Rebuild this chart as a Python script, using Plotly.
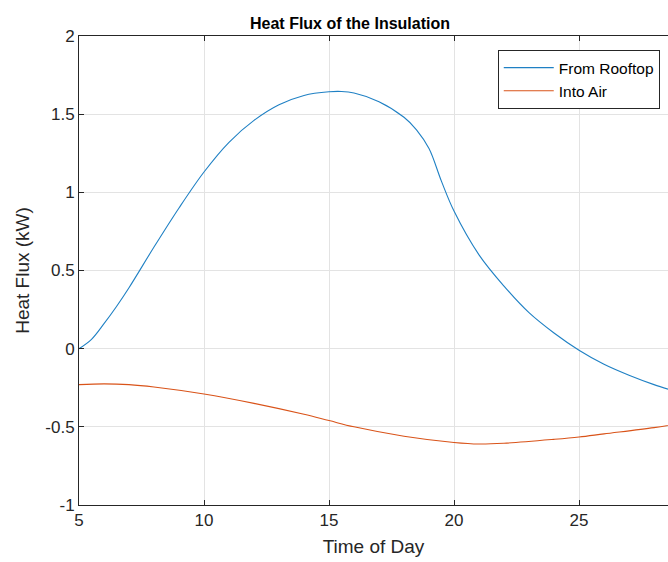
import plotly.graph_objects as go

# Data
t_roof = [5, 5.5, 6, 6.5, 7, 8, 9, 10, 11, 12, 13, 14, 15, 15.5, 16, 17, 18, 18.5, 19, 19.5, 20, 21, 22, 23, 24, 25, 26, 27, 28, 29]
q_roof = [0, 0.06, 0.16, 0.27, 0.39, 0.65, 0.9, 1.13, 1.32, 1.46, 1.56, 1.62, 1.643, 1.645, 1.635, 1.58, 1.48, 1.40, 1.28, 1.07, 0.88, 0.6, 0.4, 0.23, 0.1, -0.01, -0.1, -0.17, -0.23, -0.28]

t_air = [5, 6, 7, 8, 10, 12, 14, 15, 16, 18, 20, 21, 22, 24, 25, 26, 28, 29]
q_air = [-0.23, -0.225, -0.23, -0.245, -0.29, -0.35, -0.42, -0.46, -0.5, -0.56, -0.6, -0.61, -0.605, -0.58, -0.565, -0.545, -0.505, -0.48]

x_ticks = [5, 10, 15, 20, 25]
y_ticks = [-1, -0.5, 0, 0.5, 1, 1.5, 2]
y_tick_text = ["-1", "-0.5", "0", "0.5", "1", "1.5", "2"]

W, H = 668, 562
L, R, T, B = 79, 0, 36, 57

fig = go.Figure()
fig.add_trace(go.Scatter(x=t_roof, y=q_roof, mode="lines", name="From Rooftop",
                         line=dict(color="#1f80c4", width=1.1, shape="spline", smoothing=1.0)))
fig.add_trace(go.Scatter(x=t_air, y=q_air, mode="lines", name="Into Air",
                         line=dict(color="#D95319", width=1.1, shape="spline", smoothing=1.0)))

font = "Liberation Sans, Arial, sans-serif"
fig.update_layout(
    width=W, height=H,
    margin=dict(l=L, r=R, t=T, b=B),
    paper_bgcolor="white", plot_bgcolor="white",
    font=dict(family=font, size=17, color="#262626"),
    showlegend=True,
    legend=dict(x=0.986, y=0.970, xanchor="right", yanchor="top",
                bgcolor="white", bordercolor="#262626", borderwidth=1,
                font=dict(size=15.5, color="#000000"), tracegroupgap=0,
                itemwidth=50),
    annotations=[
        dict(text="<b>Heat Flux of the Insulation</b>", x=(350 - L) / (W - L - R), y=1.0,
             xref="paper", yref="paper", xanchor="center", yanchor="bottom", yshift=2,
             showarrow=False, font=dict(size=16, color="#000000", family=font)),
    ],
)
fig.update_xaxes(
    range=[5, 5 + (W - L - R) / 25.0],
    tickvals=x_ticks, ticks="inside", ticklen=5, tickcolor="#262626",
    showline=True, linecolor="#262626", linewidth=1, mirror="ticks",
    showgrid=True, gridcolor="#e3e3e3", gridwidth=1, zeroline=False,
    title=dict(text="Time of Day", font=dict(size=19, color="#262626"), standoff=10),
    tickfont=dict(size=17, color="#262626"),
)
fig.update_yaxes(
    range=[-1, 2],
    tickvals=y_ticks, ticktext=y_tick_text, ticks="inside", ticklen=5, tickcolor="#262626",
    showline=True, linecolor="#262626", linewidth=1, mirror=False,
    showgrid=True, gridcolor="#e3e3e3", gridwidth=1, zeroline=False,
    title=dict(text="Heat Flux (kW)", font=dict(size=19, color="#262626"), standoff=10),
    tickfont=dict(size=17, color="#262626"),
)

fig.write_html("out.html")
